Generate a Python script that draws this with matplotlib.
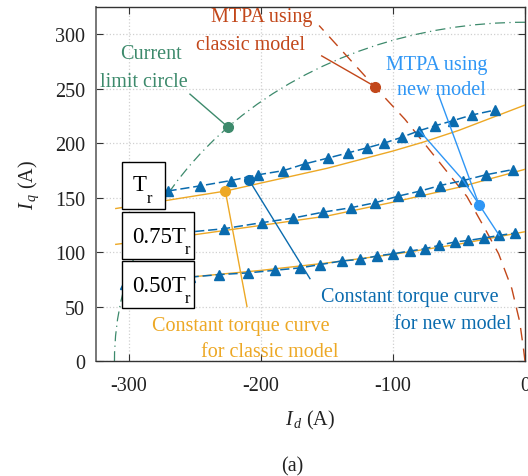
import matplotlib
matplotlib.use('Agg')
import matplotlib.pyplot as plt
from matplotlib.patches import Arc, Rectangle

plt.rcParams['font.family'] = ['Liberation Serif', 'DejaVu Serif']
plt.rcParams['mathtext.fontset'] = 'custom'
plt.rcParams['mathtext.rm'] = 'Liberation Serif'
plt.rcParams['mathtext.it'] = 'Liberation Serif:italic'
plt.rcParams['axes.unicode_minus'] = False

# ---------------- data ----------------
current_limit_radius = 311

# constant torque curves, classic model (orange)
classic_id_100 = [-310, -270, -227, -200, -150, -100, -77, -50, 0]
classic_iq_100 = [140, 147.7, 156, 163.4, 176.9, 192.8, 201, 211.8, 235]
classic_id_075 = [-310, -250, -200, -150, -100, -50, 0]
classic_iq_075 = [107.1, 116, 124.5, 133.1, 145.8, 159.5, 176]
classic_id_050 = [-303, -250, -200, -150, -100, -50, 0]
classic_iq_050 = [72, 77.5, 83.2, 90.0, 97.9, 107.3, 118.7]

# constant torque curves, new model (blue triangles)
new_id_100 = [-270.8, -246, -222.7, -202, -183, -166.7, -149, -134.3, -120,
              -106.8, -93.4, -80, -68, -54.8, -40.4, -22.7]
new_iq_100 = [156, 160.8, 165.7, 171, 174.8, 181, 186.4, 191, 195.6,
              200, 205.4, 211.5, 216, 220.6, 225.8, 230.4]
new_id_075 = [-289, -258, -228.3, -199.5, -175.8, -152.8, -132, -113.6, -96,
              -79.5, -64.4, -46.7, -29.5, -9]
new_iq_075 = [114, 118, 121.4, 127, 131.2, 136.7, 140.7, 145.3, 151.4,
              156, 161.1, 165.7, 171, 175.8]
new_id_050 = [-303, -277, -254, -231.6, -209.7, -189.4, -170.5, -155.3, -139,
              -125, -112.4, -99.8, -87, -75.8, -65, -53, -42.9, -31, -19.5, -7.6]
new_iq_050 = [71, 74, 77, 79.3, 80.9, 83.3, 85.5, 88.5, 91.8,
              93.3, 96.4, 98.5, 101, 103.1, 106.2, 109.3, 110.7, 112.9, 115.3, 117.5]

# MTPA trajectories
mtpa_classic_id = [0, -1, -4, -10, -20, -29.5, -44, -91, -114, -156]
mtpa_classic_iq = [0, 10, 36, 66.5, 98.5, 119.6, 151, 222, 252, 308]
mtpa_new_id = [-80, -46.7, -19.5]
mtpa_new_iq = [211.5, 165.7, 115.3]

torque_labels = ['T', '0.75T', '0.50T']

x_ticks = [-300, -200, -100, 0]
y_ticks = [0, 50, 100, 150, 200, 250, 300]

# ---------------- colours ----------------
c_orange = '#EDA825'
c_blue = '#0A6BAE'
c_red = '#C2471A'
c_lblue = '#2F96F5'
c_green = '#3D8A6C'

FS = 14.5

fig = plt.figure(figsize=(5.28, 4.77), dpi=100)
ax = fig.add_axes([0.1818, 0.2411, 0.8125, 0.7421])
ax.set_xlim(-325, 0)
ax.set_ylim(0, 325)

# grid
ax.set_xticks(x_ticks)
ax.set_yticks(y_ticks)
ax.grid(True, linestyle=':', color='#d0d0d0', linewidth=0.9)
ax.set_axisbelow(True)

# current limit circle
arc = Arc((0, 0), 2 * current_limit_radius, 2 * current_limit_radius,
          theta1=90, theta2=180, color=c_green, lw=0.9,
          linestyle=(0, (8, 3.5, 1, 3.5)), zorder=2)
ax.add_patch(arc)

# classic constant torque curves
for xs, ys in [(classic_id_100, classic_iq_100), (classic_id_075, classic_iq_075),
               (classic_id_050, classic_iq_050)]:
    ax.plot(xs, ys, color=c_orange, lw=1.0, zorder=3)

# new model constant torque curves
for xs, ys in [(new_id_100, new_iq_100), (new_id_075, new_iq_075),
               (new_id_050, new_iq_050)]:
    ax.plot(xs, ys, color=c_blue, lw=1.1, dashes=(6, 2.5), marker='^',
            markersize=7.5, markerfacecolor=c_blue, markeredgecolor=c_blue, zorder=4)

# MTPA lines
ax.plot(mtpa_classic_id, mtpa_classic_iq, color=c_red, lw=1.0, dashes=(9, 6), zorder=3)
ax.plot(mtpa_new_id, mtpa_new_iq, color=c_lblue, lw=1.0, zorder=5)

# annotations
def callout(pt, txt_pt, color):
    ax.plot([txt_pt[0], pt[0]], [txt_pt[1], pt[1]], color=color, lw=1.0, zorder=6)
    ax.plot([pt[0]], [pt[1]], 'o', color=color, markersize=7, zorder=7)

callout((-225, 214.8), (-253.8, 245), c_green)
callout((-113.6, 252), (-154, 280.1), c_red)
callout((-34.8, 143.4), (-66, 246), c_lblue)
callout((-227, 156), (-210.6, 50), c_orange)
callout((-209.3, 166.6), (-162.9, 75.6), c_blue)

def label(x, y, s, color):
    ax.text(x, y, s, color=color, fontsize=FS, ha='center', va='center', zorder=8)

label(-283.3, 282.6, 'Current', c_green)
label(-288.6, 257, 'limit circle', c_green)
label(-199.6, 316.5, 'MTPA using', c_red)
label(-207.6, 290.8, 'classic model', c_red)
label(-66.7, 272.5, 'MTPA using', c_lblue)
label(-63.6, 249.6, 'new model', c_lblue)
label(-215.2, 32.9, 'Constant torque curve', c_orange)
label(-193.2, 8.8, 'for classic model', c_orange)
label(-87.1, 59.2, 'Constant torque curve', c_blue)
label(-54.5, 34.4, 'for new model', c_blue)

# torque boxes (axes-fraction layout)
boxes = [((0.0606, 0.429), 0.100, 0.133, (0.101, 0.499), (0.124, 0.461)),
         ((0.0606, 0.288), 0.1678, 0.133, (0.148, 0.353), (0.214, 0.317)),
         ((0.0606, 0.150), 0.1678, 0.133, (0.148, 0.214), (0.214, 0.178))]
for lab, (xy, w, h, tpos, rpos) in zip(torque_labels, boxes):
    ax.add_patch(Rectangle(xy, w, h, transform=ax.transAxes, facecolor='white',
                           edgecolor='black', lw=1.0, zorder=9, clip_on=False))
    ax.text(tpos[0], tpos[1], lab, transform=ax.transAxes, fontsize=16.5,
            ha='center', va='center', zorder=10)
    ax.text(rpos[0], rpos[1], 'r', transform=ax.transAxes, fontsize=12,
            ha='center', va='center', zorder=10)

# axes styling
for sp in ax.spines.values():
    sp.set_color('#333333')
    sp.set_linewidth(1.0)
ax.spines['left'].set_color('#777777')
ax.spines['left'].set_linewidth(1.4)
ax.tick_params(direction='in', length=5, width=0.8, top=True, right=True,
               labelsize=FS, colors='#333333', labelcolor='#222222')
ax.tick_params(axis='x', pad=11)
ax.tick_params(axis='y', pad=8)
ax.set_xticklabels([str(v) for v in x_ticks])
ax.set_yticklabels([str(v) for v in y_ticks])

ax.set_xlabel(r'$I_{\,d}$ (A)', fontsize=FS, color='#222222', labelpad=9)
ax.set_ylabel(r'$I_{\,q}$ (A)', fontsize=FS, color='#222222', labelpad=10)

fig.text(292 / 528, 1 - 466.7 / 477, '(a)', fontsize=FS, ha='center', va='center',
         color='#222222')

fig.savefig('out.png', dpi=100)
